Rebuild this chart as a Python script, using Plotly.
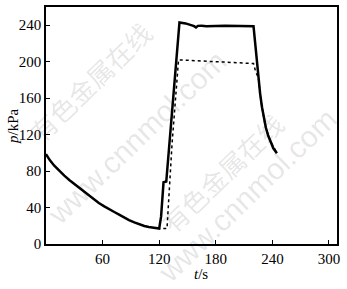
import plotly.graph_objects as go

# Solid curve (time in s, pressure in kPa)
t_solid = [0, 4, 8.8, 14, 19.4, 25, 30, 35, 40.6, 46, 51.2, 56, 61.8, 67, 72.4, 78, 83,
           88, 93.6, 99, 104.2, 109, 113, 117, 120, 122, 123.5, 124.6, 127.5,
           134, 141.5, 148, 153, 157, 159, 161, 165, 170, 190, 210, 220, 221.6, 223.5,
           225.2, 227, 229, 231, 233, 235.5, 238, 241, 244.8]
p_solid = [98.6, 92, 85.9, 80, 75, 70, 66, 61.5, 56.9, 52.5, 48.6, 45, 41.3, 38, 35.1,
           32, 29, 26.3, 23.8, 21.6, 19.8, 18.6, 17.8, 17.2, 17, 30, 55, 67.7, 68.5,
           150, 243, 242, 240.5, 239, 237.5, 239.3, 239.5, 239, 239.5, 239.5, 239, 222,
           200, 182, 165, 150, 138, 128, 119, 112, 105, 99.5]

# Dotted curve
t_dot = [118, 120, 128.3, 133.6, 140.5, 160, 180, 200, 220, 222, 225.2, 228, 232.5,
         237.8, 244.8]
p_dot = [17.5, 17, 17, 109.5, 202, 201, 200, 199, 198, 190, 182, 156, 129, 113, 100]

x_ticks = [60, 120, 180, 240, 300]
y_ticks = [0, 40, 80, 120, 160, 200, 240]

fig = go.Figure()
fig.add_trace(go.Scatter(x=t_dot, y=p_dot, mode="lines",
                         line=dict(color="black", width=1.5, dash="dot"),
                         showlegend=False))
fig.add_trace(go.Scatter(x=t_solid, y=p_solid, mode="lines",
                         line=dict(color="black", width=2.5),
                         showlegend=False))

PX0, PX1, PY0, PY1 = 46, 337, 5, 244
W, H = 347, 289


def px(x):
    return (x - PX0) / (PX1 - PX0)


def py(y):
    return (PY1 - y) / (PY1 - PY0)


wm_color = "rgba(0,0,0,0.11)"
wm = [
    ("有色金属在线", 90, 80, 26, "Noto Sans CJK SC"),
    ("www.cnnmol.com", 137, 137, 30, "Liberation Sans"),
    ("有色金属在线", 222, 172, 26, "Noto Sans CJK SC"),
    ("www.cnnmol.com", 247, 195, 30, "Liberation Sans"),
]
for txt, x, y, s, f in wm:
    fig.add_annotation(text=txt, xref="paper", yref="paper", x=px(x), y=py(y),
                       xanchor="center", yanchor="middle",
                       showarrow=False, textangle=-44,
                       font=dict(size=s, color=wm_color, family=f))

fig.add_annotation(text="<i>p</i>/kPa", xref="paper", yref="paper",
                   x=px(13), y=py(125), xanchor="center", yanchor="middle",
                   showarrow=False, textangle=-90,
                   font=dict(size=15, color="black", family="Liberation Serif"))
fig.add_annotation(text="<i>t</i>/s", xref="paper", yref="paper",
                   x=px(201), y=py(274), xanchor="center", yanchor="middle",
                   showarrow=False,
                   font=dict(size=15, color="black", family="Liberation Serif"))

axis_common = dict(showgrid=False, zeroline=False, showline=True, linecolor="black",
                   linewidth=1.5, mirror=True, ticks="inside", ticklen=4,
                   tickcolor="black", tickwidth=1,
                   tickfont=dict(size=15, color="black", family="Liberation Serif"))

fig.update_xaxes(range=[0, 308.5], tickvals=x_ticks, ticktext=[str(v) for v in x_ticks],
                 **axis_common)
fig.update_yaxes(range=[0, 260], tickvals=y_ticks, ticktext=[str(v) for v in y_ticks],
                 **axis_common)

fig.update_layout(width=W, height=H, margin=dict(l=PX0, r=W - PX1, t=PY0, b=H - PY1),
                  plot_bgcolor="white", paper_bgcolor="white", showlegend=False)

fig.write_html("out.html")
